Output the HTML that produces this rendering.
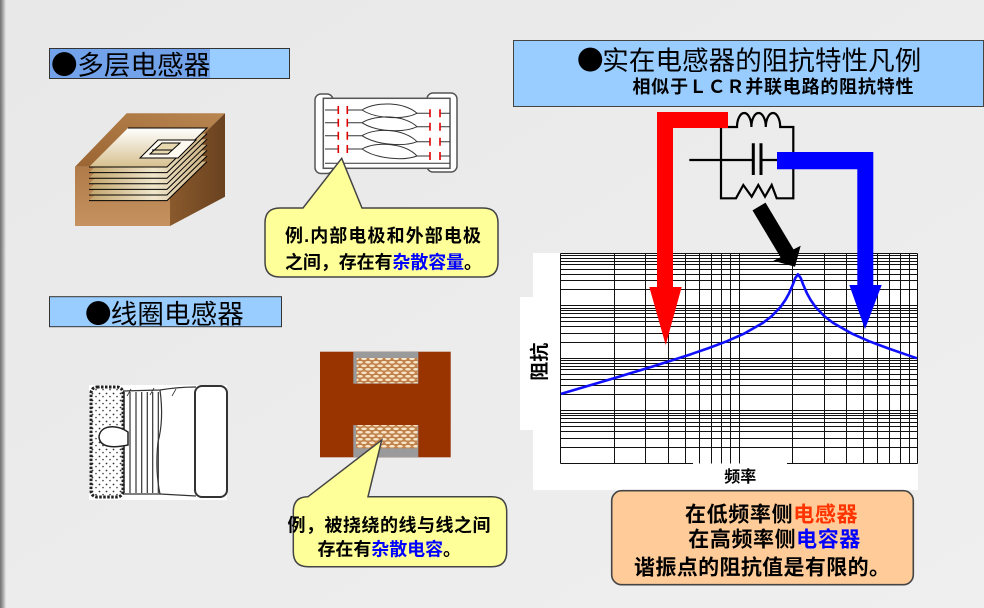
<!DOCTYPE html>
<html><head><meta charset="utf-8">
<style>
html,body{margin:0;padding:0;}
body{width:984px;height:608px;overflow:hidden;background:#ebebeb;}
svg{display:block;}
.t{font-family:"Liberation Sans","Noto Sans CJK SC",sans-serif;}
.c{font-family:"Noto Sans CJK SC",sans-serif;}
</style></head><body>
<svg width="984" height="608" viewBox="0 0 984 608" xmlns="http://www.w3.org/2000/svg">
<defs>
 <linearGradient id="bg" x1="0" y1="0" x2="1" y2="1"><stop offset="0" stop-color="#e8e8e8"/><stop offset="1" stop-color="#efefef"/></linearGradient>
 <linearGradient id="edge" x1="0" x2="1"><stop offset="0" stop-color="#707070"/><stop offset="0.45" stop-color="#a0a0a0"/><stop offset="1" stop-color="#e8e8e8"/></linearGradient>
 <linearGradient id="topf" x1="0" y1="1" x2="1" y2="0"><stop offset="0" stop-color="#9a6532"/><stop offset="1" stop-color="#b98550"/></linearGradient>
 <linearGradient id="frontf" x1="0" y1="0" x2="0" y2="1"><stop offset="0" stop-color="#b07b48"/><stop offset="1" stop-color="#c59260"/></linearGradient>
 <linearGradient id="rightf" x1="0" y1="0" x2="1" y2="0"><stop offset="0" stop-color="#8a5a2c"/><stop offset="1" stop-color="#6a4220"/></linearGradient>
 <linearGradient id="plate" x1="0" y1="0" x2="1" y2="0"><stop offset="0" stop-color="#c2a46c"/><stop offset="0.55" stop-color="#f0e6cc"/><stop offset="1" stop-color="#cdb282"/></linearGradient>
 <linearGradient id="plateTop" x1="0" y1="0" x2="0" y2="1"><stop offset="0" stop-color="#ffffff"/><stop offset="1" stop-color="#d6c08e"/></linearGradient>
 <pattern id="dots" width="7" height="7" patternUnits="userSpaceOnUse">
  <rect width="7" height="7" fill="#fff"/>
  <circle cx="1.5" cy="1.5" r="0.9" fill="#333"/>
  <circle cx="5" cy="4.6" r="0.8" fill="#444"/>
 </pattern>
 <pattern id="wind" width="8" height="7" patternUnits="userSpaceOnUse">
  <rect width="8" height="7" fill="#c4864e"/>
  <ellipse cx="4" cy="1.8" rx="3.1" ry="1.6" fill="#f6e6c8" stroke="#b86e38" stroke-width="0.5"/>
  <ellipse cx="0" cy="5.3" rx="3.1" ry="1.6" fill="#f6e6c8" stroke="#b86e38" stroke-width="0.5"/>
  <ellipse cx="8" cy="5.3" rx="3.1" ry="1.6" fill="#f6e6c8" stroke="#b86e38" stroke-width="0.5"/>
 </pattern>
</defs>

<!-- background -->
<rect x="0" y="0" width="984" height="608" fill="url(#bg)"/>
<rect x="0" y="0" width="6" height="608" fill="url(#edge)"/>

<!-- Heading 1 -->
<rect x="49.5" y="48.5" width="240" height="30" fill="#99ccff" stroke="#333" stroke-width="1"/>
<rect x="50" y="49" width="160" height="29" fill="#72a2ea"/>
<text class="c" x="51" y="74.3" font-size="26.5" fill="#000">●</text>
<text class="t" x="77.3" y="74.3" font-size="26.5" textLength="133" lengthAdjust="spacing" fill="#000">多层电感器</text>

<!-- 3D multilayer block -->
<polygon points="75,166.7 126.7,113.3 225,113.3 170,166.7" fill="url(#topf)"/>
<polygon points="170,166.7 225,113.3 225,196.7 170,226" fill="url(#rightf)"/>
<rect x="75" y="166.7" width="95" height="59.3" fill="url(#frontf)"/>
<g stroke="#000" stroke-width="1">
 <polygon points="89,200.6 167,200.6 207,161.6 128,161.6" fill="url(#plate)" stroke="none"/>
 <polyline points="89,200.6 167,200.6 207,161.6" fill="none"/>
 <polygon points="89,195 167,195 207,156 128,156" fill="url(#plate)" stroke="none"/>
 <polyline points="89,195 167,195 207,156" fill="none"/>
 <polygon points="89,189.4 167,189.4 207,150.4 128,150.4" fill="url(#plate)" stroke="none"/>
 <polyline points="89,189.4 167,189.4 207,150.4" fill="none"/>
 <polygon points="89,183.8 167,183.8 207,144.8 128,144.8" fill="url(#plate)" stroke="none"/>
 <polyline points="89,183.8 167,183.8 207,144.8" fill="none"/>
 <polygon points="89,178.2 167,178.2 207,139.2 128,139.2" fill="url(#plate)" stroke="none"/>
 <polyline points="89,178.2 167,178.2 207,139.2" fill="none"/>
 <polygon points="89,172.6 167,172.6 207,133.6 128,133.6" fill="url(#plate)" stroke="none"/>
 <polyline points="89,172.6 167,172.6 207,133.6" fill="none"/>
 <polygon points="89,167 167,167 207,128 128,128" fill="url(#plateTop)" stroke="none"/>
 <polyline points="89,167 167,167 207,128 128,128" fill="none"/>
 <polygon points="140,158 178,158 196,140 158,140" fill="#fffaf0"/>
 <polygon points="150,154 168,154 180,143 162,143" fill="#e8d8b0"/>
 <line x1="152" y1="150" x2="172" y2="150"/>
</g>

<!-- top chip diagram -->
<rect x="315" y="94" width="18" height="79.5" rx="6" fill="#fff" stroke="#555" stroke-width="1.5"/>
<rect x="427" y="93" width="30" height="79" rx="6" fill="#fff" stroke="#555" stroke-width="1.5"/>
<rect x="323.3" y="98.3" width="126.7" height="70" fill="#fff" stroke="#555" stroke-width="1.5"/>
<g stroke="#333" stroke-width="1" fill="none">
 <path d="M325,110H338 M347,110H362 M325,122.7H338 M347,122.7H362 M325,135.7H338 M347,135.7H362 M325,149H338 M347,149H362"/>
 <path d="M362,110 C376,101 405,102 417,113.3 C404,120 376,119 362,110"/>
 <path d="M362,122.7 C376,114 405,115 417,126.7 C404,133 376,132 362,122.7"/>
 <path d="M362,135.7 C376,127 405,129 417,141.7 C404,147 376,145 362,135.7"/>
 <path d="M362,149 C376,141 405,143 417,156 C404,161 376,159 362,149"/>
 <path d="M417,113.3H430 M440,113.3H450 M417,126.7H430 M440,126.7H450 M417,141.7H430 M440,141.7H450 M417,156H430 M440,156H450"/>
 <path d="M325,163.3H450"/>
</g>
<g stroke="#e00000" stroke-width="1.6">
 <path d="M338.3,106V114 M347.3,106V114 M338.3,118.7V126.7 M347.3,118.7V126.7 M338.3,131.7V139.7 M347.3,131.7V139.7 M338.3,145V153 M347.3,145V153"/>
 <path d="M430,109.3V117.3 M440,109.3V117.3 M430,122.7V130.7 M440,122.7V130.7 M430,137.7V145.7 M440,137.7V145.7 M430,152V160 M440,152V160"/>
</g>

<!-- callout 1 -->
<path d="M280,208 L303,208 L341.7,158.3 L362,208 L483,208 Q498,208 498,223 L498,262 Q498,277 483,277 L280,277 Q265,277 265,262 L265,223 Q265,208 280,208 Z" fill="#ffff99" stroke="#444" stroke-width="1.5"/>
<text class="t" x="285" y="241.8" font-size="18" font-weight="bold" textLength="196" lengthAdjust="spacing" fill="#000">例.内部电极和外部电极</text>
<text class="t" x="285" y="268.5" font-size="18" font-weight="bold" textLength="197" lengthAdjust="spacing" fill="#000">之间，存在有<tspan fill="#0000ff">杂散容量</tspan>。</text>

<!-- Heading 2 -->
<rect x="49.5" y="296.7" width="232" height="30" fill="#99ccff" stroke="#333" stroke-width="1"/>
<text class="c" x="85" y="323.4" font-size="26.5" fill="#000">●</text>
<text class="t" x="110.7" y="323.4" font-size="26.5" textLength="133" lengthAdjust="spacing" fill="#000">线圈电感器</text>

<!-- coil inductor -->
<rect x="89" y="385" width="138" height="115" fill="#fff"/>
<g stroke="#333" fill="none" stroke-width="1.2">
 <path d="M123,391 L160,390 Q178,387 196,387"/>
 <path d="M123,494 L160,494 L196,496"/>
 <path d="M160,390 Q164,420 158,442 Q155,470 160,494"/>
 <path d="M130,392V493 M136,392V493 M141.7,392V493 M147.3,392V493 M152.7,392V493 M158.3,392V493"/>
 <path d="M124,392V493" stroke-width="1.6"/>
 <path d="M127,396 L131,389 M150,395 L154,388 M172,396 L176,389" stroke-width="0.8"/>
</g>
<rect x="195" y="386" width="32" height="111" rx="7" fill="#fff" stroke="#333" stroke-width="2"/>
<rect x="91" y="387" width="32" height="110" rx="6" fill="url(#dots)" stroke="#222" stroke-width="3" stroke-dasharray="2.5 1.5"/>
<path d="M128,432 C116,424 100,425 99,437 C100,448 114,448 128,445 Z" fill="#fff" stroke="#222" stroke-width="1.5"/>

<!-- bottom chip -->
<rect x="320" y="351.7" width="130.7" height="105.6" fill="#993300"/>
<rect x="353.3" y="351.7" width="65" height="32" fill="#9a9a9a"/>
<rect x="356.7" y="358" width="61" height="25.3" fill="url(#wind)"/>
<rect x="353.3" y="425" width="65" height="32.3" fill="#9a9a9a"/>
<rect x="356" y="425" width="61.5" height="23.3" fill="url(#wind)"/>

<!-- callout 2 -->
<path d="M308,496.7 L381.7,440 L368,496.7 L491.7,496.7 Q506.7,496.7 506.7,511.7 L506.7,551.7 Q506.7,566.7 491.7,566.7 L308.3,566.7 Q293.3,566.7 293.3,551.7 L293.3,511.7 Q293.3,496.7 308,496.7 Z" fill="#ffff99" stroke="#444" stroke-width="1.5"/>
<text class="t" x="287.5" y="531.3" font-size="18" font-weight="bold" textLength="203" lengthAdjust="spacing" fill="#000">例，被挠绕的线与线之间</text>
<text class="t" x="317.5" y="555.5" font-size="18" font-weight="bold" textLength="143.5" lengthAdjust="spacing" fill="#000">存在有<tspan fill="#0000ff">杂散电容</tspan>。</text>

<!-- Right header -->
<rect x="513.5" y="40.5" width="470" height="66" fill="#99ccff" stroke="#444" stroke-width="1"/>
<text class="c" x="577" y="70.1" font-size="26.5" fill="#000">●</text>
<text class="t" x="602.3" y="70.1" font-size="26.5" textLength="319" lengthAdjust="spacing" fill="#000">实在电感器的阻抗特性凡例</text>
<text class="t" x="632.5" y="93.1" font-size="18" font-weight="bold" textLength="281" lengthAdjust="spacing" fill="#000">相似于ＬＣＲ并联电路的阻抗特性</text>

<!-- graph background -->
<rect x="533" y="253" width="385" height="237" fill="#fff"/>
<rect x="520" y="297" width="14" height="133" fill="#fff"/>

<!-- grid -->
<g stroke="#111" stroke-width="1" fill="none">
 <path d="M560.5,253.5H917.5 M560.5,255.5H917.5 M560.5,258.5H917.5 M560.5,261.5H917.5 M560.5,264.5H917.5 M560.5,269.5H917.5 M560.5,274.5H917.5 M560.5,280.5H917.5 M560.5,289.5H917.5 M560.5,305.5H917.5 M560.5,308.5H917.5 M560.5,310.5H917.5 M560.5,313.5H917.5 M560.5,317.5H917.5 M560.5,321.5H917.5 M560.5,326.5H917.5 M560.5,333.5H917.5 M560.5,342.5H917.5 M560.5,358.5H917.5 M560.5,360.5H917.5 M560.5,363.5H917.5 M560.5,366.5H917.5 M560.5,369.5H917.5 M560.5,374.5H917.5 M560.5,379.5H917.5 M560.5,385.5H917.5 M560.5,394.5H917.5 M560.5,410.5H917.5 M560.5,413.5H917.5 M560.5,415.5H917.5 M560.5,418.5H917.5 M560.5,422.5H917.5 M560.5,426.5H917.5 M560.5,431.5H917.5 M560.5,438.5H917.5 M560.5,447.5H917.5 M560.5,463.5H693 M787,463.5H917.5"/>
 <path d="M560.5,253.5V463.5 M614.5,253.5V463.5 M645.5,253.5V463.5 M668.5,253.5V463.5 M685.5,253.5V463.5 M699.5,253.5V463.5 M711.5,253.5V463.5 M721.5,253.5V463.5 M730.5,253.5V463.5 M739.5,253.5V463.5 M792.5,253.5V463.5 M824.5,253.5V463.5 M846.5,253.5V463.5 M863.5,253.5V463.5 M877.5,253.5V463.5 M889.5,253.5V463.5 M900.5,253.5V463.5 M909.5,253.5V463.5 M917.5,253.5V463.5"/>
</g>

<!-- impedance curve -->
<polyline points="561,393.9 619.7,376.5 655.4,365.6 691,354.2 708.9,348 726.7,341.3 744.5,333.4 762.3,323.3 771.3,316.5 780.2,307.4 785.5,299.8 789.1,293.2 792.7,284.9 795.3,278 798,274.3 800.7,278 803.3,284.9 806.9,293.2 810.5,299.8 815.8,307.4 824.7,316.5 833.7,323.3 851.5,333.4 869.3,341.3 887.2,348 905,354.2 917,358.3" fill="none" stroke="#1010ff" stroke-width="2.6" stroke-linejoin="round"/>

<!-- axis labels -->
<text class="t" x="740.3" y="481.9" font-size="16" font-weight="bold" text-anchor="middle" fill="#000">频率</text>
<text class="t" x="539" y="368.9" font-size="19" font-weight="bold" text-anchor="middle" fill="#000" transform="rotate(-90 539 361.7)">阻抗</text>

<!-- circuit -->
<g stroke="#000" stroke-width="2.2" fill="none">
 <path d="M721,127 H737 a7.2,14 0 0 1 14.4,0 a7.2,14 0 0 1 14.4,0 a7.2,14 0 0 1 14.4,0 H793.3 V198.3 H776.7 L771.7,185 L765,196.7 L758.3,185 L751.7,196.7 L743.3,185 L736,198.3 H721 Z"/>
 <path d="M689.3,160 H753.3 M761,160 H780"/>
 <path d="M753.3,143.3 V175 M761,143.3 V175" stroke-width="3"/>
</g>

<!-- red arrow -->
<polygon points="657,112 728,112 728,128 673,128 673,287 681.7,287 665.7,345 649.3,287 657,287" fill="#ff0000"/>
<!-- blue arrow -->
<polygon points="777,152 873.3,152 873.3,285 881.7,285 865,329.3 849.3,285 857.3,285 857.3,169.3 777,169.3" fill="#0000ff"/>
<!-- black arrow -->
<polygon points="752.5,210.4 765.5,202.6 793.5,249.4 800.7,245.7 795,266.7 773.3,260.7 780.5,257.2" fill="#000"/>

<!-- bottom-right callout -->
<rect x="611.7" y="490.7" width="301.6" height="94" rx="10" fill="#ffcc99" stroke="#444" stroke-width="1.6"/>
<text class="t" x="685" y="521.3" font-size="21" font-weight="bold" textLength="172.5" lengthAdjust="spacing" fill="#000">在低频率侧<tspan fill="#ff3300">电感器</tspan></text>
<text class="t" x="688.3" y="546.3" font-size="21" font-weight="bold" textLength="172" lengthAdjust="spacing" fill="#000">在高频率侧<tspan fill="#0000ff">电容器</tspan></text>
<text class="t" x="634" y="574.7" font-size="21" font-weight="bold" textLength="256" lengthAdjust="spacing" fill="#000">谐振点的阻抗值是有限的。</text>
</svg>
</body></html>
